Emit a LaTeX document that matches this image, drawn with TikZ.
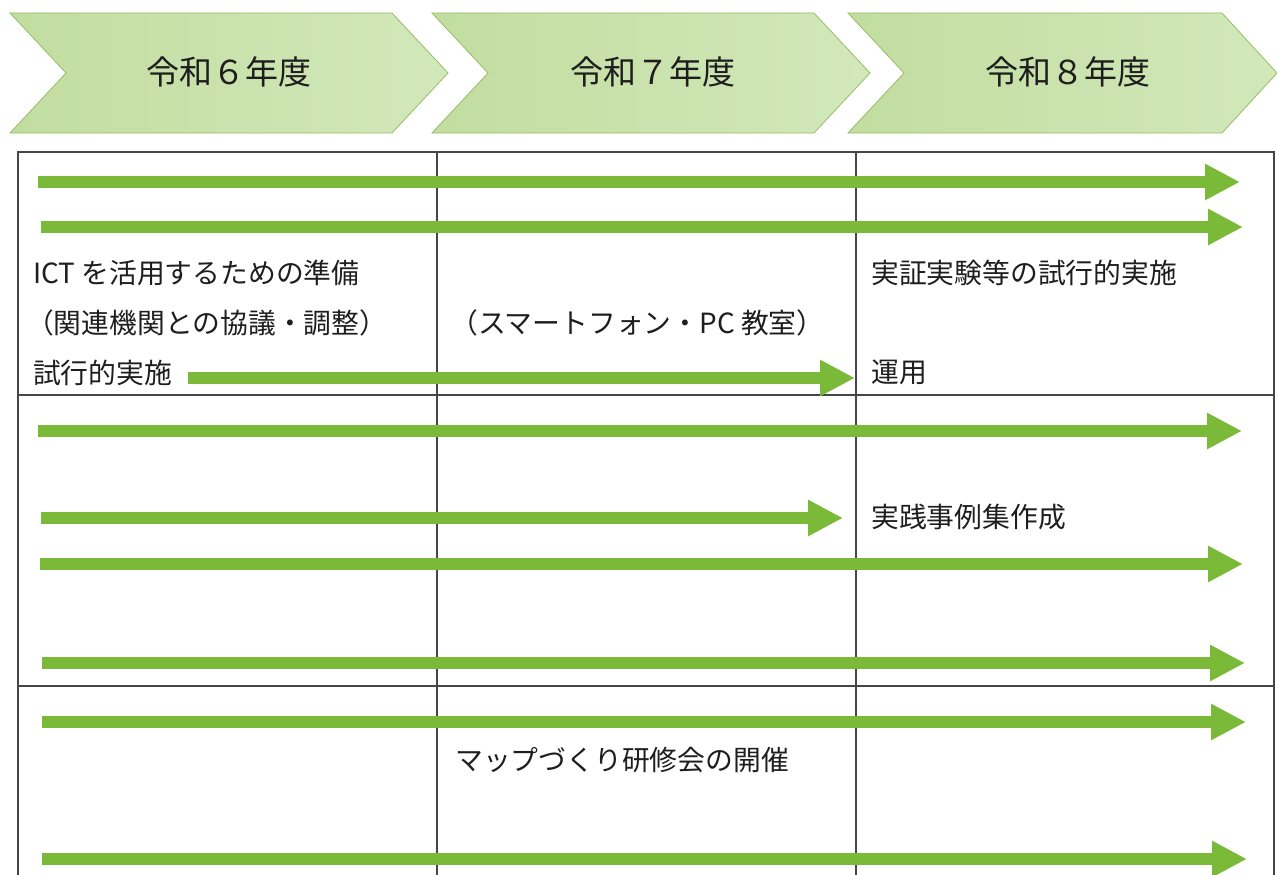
\documentclass[tikz,border=0pt]{standalone}
\usepackage{fontspec}
\setmainfont{Noto Sans CJK JP}
\usetikzlibrary{arrows.meta}
\definecolor{arrowgreen}{RGB}{122,186,56}
\definecolor{chevL}{RGB}{194,221,160}
\definecolor{chevR}{RGB}{210,232,186}
\definecolor{chevborder}{RGB}{150,190,100}
\definecolor{gridgray}{RGB}{70,70,70}
\definecolor{txt}{RGB}{30,30,30}
\begin{document}
\begin{tikzpicture}[x=1pt,y=-1pt,
  hdr/.style={font=\fontsize{33}{33}\selectfont, text=txt, inner sep=0},
  lbl/.style={font=\fontsize{27.8}{28}\selectfont, text=txt, anchor=west, inner sep=0},
  flow/.style={line width=12pt, draw=arrowgreen, -{Triangle[length=35pt,width=34pt]}},
  gridline/.style={draw=gridgray, line width=1.3pt},
  chev/.style={draw=chevborder, line width=0.8pt, left color=chevL, right color=chevR}]
\useasboundingbox (0,0) rectangle (1277,875);
% chevrons
\path[chev] (10,13) -- (392,13) -- (448,73) -- (392,133) -- (10,133) -- (66,73) -- cycle;
\path[chev] (432,13) -- (814,13) -- (870,73) -- (814,133) -- (432,133) -- (488,73) -- cycle;
\path[chev] (848,13) -- (1222,13) -- (1277,73) -- (1222,133) -- (848,133) -- (904,73) -- cycle;
\node[hdr] (h6) at (229,72) {令和６年度};
\node[hdr] (h7) at (653,72) {令和７年度};
\node[hdr] (h8) at (1068,72) {令和８年度};
% grid
\draw[gridline] (18,876) -- (18,152) -- (1274,152) -- (1274,876);
\draw[gridline] (437,152) -- (437,876);
\draw[gridline] (856,152) -- (856,876);
\draw[gridline] (18,395) -- (1274,395);
\draw[gridline] (18,686) -- (1274,686);
% labels
\node[lbl] (t1) at (33,273) {ICT を活用するための準備};
\node[lbl] (t2) at (26,323) {（関連機関との協議・調整）};
\node[lbl] (t3) at (33,373) {試行的実施};
\node[lbl] (t4) at (450,323) {（スマートフォン・PC 教室）};
\node[lbl] (t5) at (871,273) {実証実験等の試行的実施};
\node[lbl] (t6) at (871,372) {運用};
\node[lbl] (t7) at (871,517) {実践事例集作成};
\node[lbl] (t8) at (455,760) {マップづくり研修会の開催};
% arrow coordinates
\coordinate (a1s) at (38,182);  \coordinate (a1e) at (1240,182);
\coordinate (a2s) at (41,227);  \coordinate (a2e) at (1243,227);
\coordinate (a3s) at (188,378); \coordinate (a3e) at (855,378);
\coordinate (a4s) at (38,431);  \coordinate (a4e) at (1242,431);
\coordinate (a5s) at (41,518);  \coordinate (a5e) at (843,518);
\coordinate (a6s) at (40,564);  \coordinate (a6e) at (1243,564);
\coordinate (a7s) at (42,663);  \coordinate (a7e) at (1245,663);
\coordinate (a8s) at (42,722);  \coordinate (a8e) at (1246,722);
\coordinate (a9s) at (42,859);  \coordinate (a9e) at (1247,859);
\foreach \i in {1,...,9} { \draw[flow] (a\i s) -- (a\i e); }
\end{tikzpicture}
\end{document}
